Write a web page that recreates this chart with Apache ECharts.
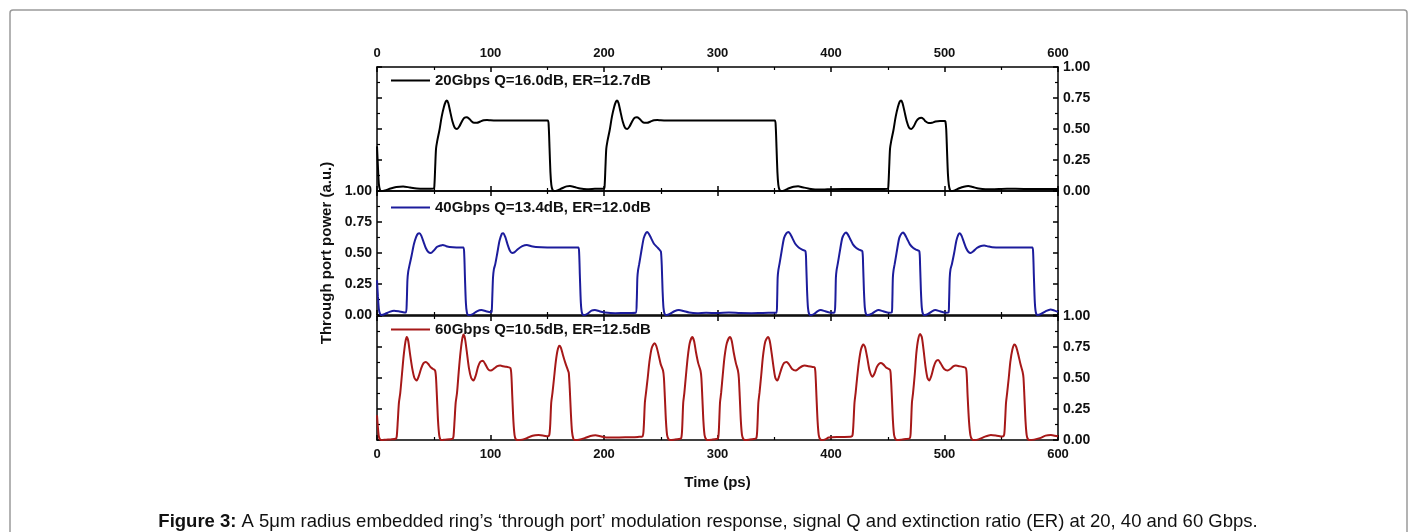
<!DOCTYPE html>
<html>
<head>
<meta charset="utf-8">
<script src="https://cdn.jsdelivr.net/npm/echarts@6/dist/echarts.min.js"></script>
<style>
html,body{margin:0;padding:0;background:#fff;}
#chart{width:1416px;height:532px;}
</style>
</head>
<body>
<div id="chart"></div>
<script>
// ---- data ----
const xTicks = [0, 100, 200, 300, 400, 500, 600];
const yTicks = [0, 0.25, 0.5, 0.75, 1.0];
const seriesNames = ['20Gbps Q=16.0dB, ER=12.7dB', '40Gbps Q=13.4dB, ER=12.0dB', '60Gbps Q=10.5dB, ER=12.5dB'];
const xTitle = 'Time (ps)';
const yTitle = 'Through port power (a.u.)';
const captionBold = 'Figure 3:';
const captionText = ' A 5μm radius embedded ring’s ‘through port’ modulation response, signal Q and extinction ratio (ER) at 20, 40 and 60 Gbps.';

// time (ps), through-port power (a.u.)
const data20G = [
[0,0.36],[0.8,0.2],[1.6,0.06],[2.6,0.01],[4,0.0],[7,0.005],[12,0.02],[17,0.032],[23,0.037],[29,0.028],[35,0.02],[42,0.018],[50,0.02],
[50.6,0.05],[51.3,0.2],[52,0.34],[53,0.40],[55,0.49],[57,0.60],[59,0.68],[60.5,0.72],[61.5,0.73],[62.8,0.71],[64.5,0.64],[66.5,0.56],[68.5,0.51],[70.5,0.50],[72.5,0.52],[75,0.565],[77,0.59],[79,0.595],[81,0.585],[83,0.565],[85.5,0.55],[88,0.55],[91,0.56],[94,0.57],[97,0.573],[100,0.57],[105,0.568],[150.5,0.568],
[151.3,0.52],[152,0.35],[152.8,0.15],[153.6,0.05],[154.6,0.01],[156,0.0],[159,0.005],[163,0.022],[167,0.037],[170,0.04],[174,0.032],[179,0.02],[185,0.015],[192,0.018],[200,0.02],
[200.6,0.05],[201.3,0.2],[202,0.34],[203,0.40],[205,0.49],[207,0.60],[209,0.68],[210.5,0.72],[211.5,0.73],[212.8,0.71],[214.5,0.64],[216.5,0.56],[218.5,0.51],[220.5,0.50],[222.5,0.52],[225,0.565],[227,0.59],[229,0.595],[231,0.585],[233,0.565],[235.5,0.55],[238,0.55],[241,0.56],[244,0.57],[247,0.573],[250,0.57],[255,0.568],[350.5,0.568],
[351.3,0.52],[352,0.35],[352.8,0.15],[353.6,0.05],[354.6,0.01],[356,0.0],[359,0.005],[363,0.022],[367,0.035],[371,0.038],[375,0.03],[380,0.02],[386,0.012],[393,0.012],[400,0.015],[420,0.016],[440,0.016],[450,0.018],
[450.6,0.05],[451.3,0.2],[452,0.34],[453,0.40],[455,0.49],[457,0.60],[459,0.68],[460.5,0.72],[461.8,0.73],[463,0.71],[464.8,0.64],[466.8,0.56],[468.8,0.51],[470.8,0.50],[472.8,0.52],[475.3,0.565],[477.5,0.585],[479.5,0.59],[481.5,0.58],[483.5,0.56],[486,0.548],[489,0.55],[492,0.56],[496,0.565],[500,0.565],[500.8,0.56],
[501.5,0.5],[502.2,0.33],[503,0.14],[503.8,0.05],[504.8,0.01],[506,0.0],[509,0.005],[513,0.022],[517,0.035],[521,0.04],[525,0.032],[530,0.02],[536,0.014],[544,0.015],[555,0.018],[570,0.017],[585,0.016],[600,0.016]
];

const data40G = [
[0,0.28],[0.8,0.15],[1.6,0.05],[2.6,0.01],[4,0.0],[7,0.008],[11,0.025],[15,0.035],[19,0.03],[23,0.022],[25.5,0.02],
[26.2,0.1],[26.8,0.28],[27.5,0.35],[28.6,0.40],[30.5,0.48],[32.5,0.57],[34.5,0.63],[36,0.655],[37.4,0.66],[39,0.64],[41,0.59],[43,0.54],[45,0.51],[47.4,0.50],[50,0.52],[53,0.55],[56,0.56],[58,0.565],[61,0.555],[64,0.548],[70,0.545],[76,0.545],
[76.8,0.5],[77.5,0.3],[78.3,0.1],[79.2,0.02],[80.5,0.0],[84,0.005],[88,0.03],[92,0.04],[96,0.03],[100,0.022],[101,0.025],
[101.6,0.15],[102.2,0.3],[103,0.37],[104.2,0.41],[106,0.5],[108,0.6],[110,0.655],[111.2,0.66],[113,0.63],[115,0.57],[117,0.52],[119,0.50],[121,0.505],[124,0.53],[128,0.555],[132,0.565],[136,0.555],[140,0.548],[150,0.545],[177.4,0.545],
[178.1,0.5],[178.8,0.3],[179.6,0.1],[180.5,0.02],[182,0.0],[185,0.008],[189,0.035],[192,0.04],[196,0.03],[201,0.02],[210,0.015],[220,0.016],[228,0.018],
[228.8,0.1],[229.4,0.3],[230,0.36],[231,0.41],[233,0.52],[235,0.62],[236.8,0.66],[238,0.67],[239.5,0.655],[241.5,0.62],[244,0.575],[247,0.545],[249.5,0.52],[250.2,0.51],
[250.9,0.4],[251.6,0.2],[252.4,0.06],[253.4,0.01],[255,0.0],[258,0.008],[262,0.03],[266,0.04],[270,0.032],[275,0.02],[282,0.015],[290,0.018],[300,0.016],[310,0.02],[320,0.016],[330,0.015],[340,0.017],[352,0.018],
[352.5,0.1],[353,0.3],[353.6,0.36],[354.6,0.41],[356.6,0.52],[358.6,0.62],[360.8,0.66],[362.5,0.67],[364,0.655],[366,0.62],[368.5,0.575],[371.5,0.545],[375,0.525],[377.5,0.515],
[378.2,0.4],[378.9,0.2],[379.7,0.06],[380.7,0.01],[382.3,0.0],[385,0.008],[388,0.03],[391,0.04],[395,0.03],[400,0.018],[403,0.02],
[403.8,0.1],[404.3,0.3],[404.9,0.36],[405.9,0.41],[407.9,0.52],[409.9,0.62],[411.8,0.655],[413.3,0.665],[414.8,0.65],[416.8,0.615],[419.3,0.57],[422.3,0.54],[425.3,0.525],[427.6,0.515],
[428.3,0.4],[429,0.2],[429.8,0.06],[430.8,0.01],[432.4,0.0],[435.5,0.008],[439,0.03],[442,0.04],[446,0.03],[451,0.018],[453.5,0.02],
[454,0.1],[454.5,0.3],[455.1,0.36],[456.1,0.41],[458.1,0.52],[460.1,0.62],[462,0.655],[463.5,0.665],[465,0.65],[467,0.615],[469.5,0.57],[472.5,0.54],[475.5,0.525],[477.8,0.515],
[478.5,0.4],[479.2,0.2],[480,0.06],[481,0.01],[482.6,0.0],[485.5,0.008],[489,0.03],[492,0.04],[496,0.03],[501,0.018],[503.5,0.02],
[504,0.1],[504.6,0.3],[505.3,0.37],[506.5,0.41],[508.5,0.5],[510.5,0.6],[512.3,0.65],[513.5,0.66],[515,0.64],[517,0.59],[519,0.54],[521,0.51],[523,0.50],[525.5,0.515],[528.5,0.54],[531.5,0.555],[535,0.56],[538.5,0.553],[542,0.547],[550,0.545],[577.4,0.545],
[578.1,0.5],[578.8,0.3],[579.6,0.1],[580.5,0.02],[582,0.0],[585,0.008],[589,0.03],[593.5,0.045],[597,0.035],[600,0.025]
];

const data60G = [
[0,0.2],[0.8,0.1],[1.6,0.03],[2.6,0.005],[4,0.0],[8,0.003],[12,0.005],[16.5,0.01],
[17.4,0.03],[18.3,0.15],[19.3,0.3],[20.5,0.38],[22,0.53],[23.5,0.68],[25,0.79],[26.2,0.83],[27.5,0.8],[29,0.7],[31,0.58],[33,0.5],[35,0.48],[37,0.52],[39,0.58],[41,0.62],[43,0.63],[45,0.615],[47,0.59],[49,0.575],[51.2,0.56],[52,0.5],[52.8,0.35],[53.8,0.15],[54.8,0.04],[55.8,0.005],[57,0.0],[60,0.003],[64,0.006],[66.5,0.01],
[67.4,0.03],[68.3,0.15],[69.3,0.3],[70.5,0.38],[72,0.55],[73.5,0.7],[75,0.81],[76.2,0.85],[77.5,0.82],[79,0.72],[81,0.58],[83,0.5],[85,0.48],[87,0.52],[89,0.59],[91,0.63],[93.2,0.64],[95.5,0.61],[98,0.57],[100.3,0.56],[103,0.575],[106,0.595],[108.5,0.60],[111,0.595],[114,0.59],[117.5,0.58],[118.4,0.52],[119.2,0.35],[120.2,0.15],[121.2,0.04],[122.3,0.005],[124,0.0],[128,0.003],[132,0.015],[137,0.035],[142.4,0.04],[147,0.035],[150.5,0.03],[151.8,0.04],
[152.6,0.12],[153.5,0.3],[154.6,0.38],[156,0.5],[157.5,0.63],[159,0.72],[160.6,0.76],[162,0.745],[164,0.68],[166,0.62],[168.3,0.56],[169,0.54],[169.8,0.42],[170.8,0.22],[171.8,0.07],[173,0.01],[174.5,0.0],[178,0.002],[183,0.015],[188,0.032],[192.4,0.038],[197,0.03],[202,0.02],[210,0.02],[220,0.022],[230,0.025],[234,0.03],
[235,0.1],[236,0.3],[237,0.38],[238.5,0.5],[240,0.63],[242,0.74],[244.4,0.78],[246,0.76],[248,0.69],[250,0.61],[252,0.56],[252.8,0.5],[253.6,0.35],[254.6,0.15],[255.6,0.04],[257,0.005],[258.5,0.0],[262,0.003],[266,0.008],[268,0.015],
[268.8,0.08],[269.8,0.3],[270.8,0.38],[272.2,0.52],[273.8,0.67],[275.5,0.78],[277.7,0.83],[279.3,0.8],[281,0.71],[283,0.62],[285,0.56],[285.8,0.5],[286.6,0.35],[287.6,0.15],[288.6,0.04],[290,0.005],[291.5,0.0],[295,0.003],[299,0.008],[300.5,0.015],
[301.2,0.08],[302.2,0.3],[303.2,0.38],[304.6,0.52],[306.2,0.67],[308.2,0.78],[310.9,0.83],[312.5,0.8],[314.2,0.71],[316.2,0.62],[318,0.56],[318.8,0.5],[319.6,0.35],[320.6,0.15],[321.6,0.04],[323,0.005],[324.5,0.0],[328,0.003],[332,0.008],[334.2,0.015],
[335,0.08],[336,0.3],[337,0.38],[338.5,0.52],[340,0.67],[342,0.79],[344.4,0.83],[346,0.8],[347.7,0.7],[349.5,0.58],[351,0.5],[352.7,0.48],[354.5,0.52],[356.5,0.58],[358.5,0.62],[360.9,0.63],[363,0.61],[365.5,0.575],[368.8,0.56],[372,0.58],[374.5,0.595],[376.8,0.60],[380,0.595],[383,0.59],[385.6,0.585],[386.4,0.52],[387.2,0.35],[388.2,0.15],[389.2,0.04],[390.5,0.005],[392,0.0],[395,0.005],[398,0.02],[405,0.025],[412,0.025],[418,0.028],[419,0.04],
[419.7,0.12],[420.7,0.3],[421.7,0.38],[423,0.5],[424.6,0.63],[426.4,0.73],[428.5,0.77],[430,0.75],[432,0.66],[434,0.56],[436.5,0.51],[438.5,0.54],[440.5,0.59],[443.8,0.62],[446,0.61],[448.5,0.585],[452,0.565],[452.8,0.5],[453.6,0.35],[454.6,0.15],[455.6,0.04],[457,0.005],[458.5,0.0],[462,0.003],[466,0.008],[469.5,0.015],
[470.3,0.08],[471.3,0.3],[472.3,0.38],[473.8,0.53],[475.2,0.7],[476.8,0.81],[478.5,0.855],[480,0.83],[481.5,0.73],[483.3,0.59],[485,0.5],[486.5,0.48],[488.5,0.52],[490.5,0.59],[492.5,0.635],[494.4,0.645],[496.8,0.615],[499.5,0.575],[502.7,0.56],[505.5,0.575],[508,0.595],[510,0.60],[513,0.595],[516,0.59],[518.8,0.58],[519.6,0.52],[520.4,0.35],[521.6,0.15],[522.8,0.04],[524.2,0.005],[526,0.0],[530,0.005],[535,0.025],[540.9,0.04],[546,0.035],[551,0.028],[552.5,0.04],
[553.2,0.12],[554.2,0.3],[555.2,0.38],[556.6,0.5],[558,0.63],[559.8,0.73],[561.5,0.77],[563,0.755],[565,0.69],[567,0.61],[568.8,0.55],[569.6,0.5],[570.4,0.35],[571.4,0.15],[572.4,0.04],[573.6,0.005],[575,0.0],[579,0.003],[584,0.015],[589,0.035],[593.8,0.04],[597,0.035],[600,0.03]
];

// ---- chart ----
const FONT = '"Liberation Sans", Arial, sans-serif';
const colors = ['#000000', '#1c1c9c', '#a61818'];
const panelData = [data20G, data40G, data60G];
const gridTops = [67, 191, 316];
const gridH = 124;

const axisLineStyle = { color: '#000', width: 1.5 };
const xLblStyle = { color: '#111', fontFamily: FONT, fontWeight: 'bold', fontSize: 13 };
const yLblStyle = { color: '#111', fontFamily: FONT, fontWeight: 'bold', fontSize: 14 };
const titleStyle = { color: '#111', fontFamily: FONT, fontWeight: 'bold', fontSize: 15 };

const grids = gridTops.map(t => ({ left: 377, top: t, width: 681, height: gridH, containLabel: false }));

const xAxes = [];
const yAxes = [];
for (let g = 0; g < 3; g++) {
  ['bottom', 'top'].forEach(pos => {
    const showLbl = (g === 0 && pos === 'top') || (g === 2 && pos === 'bottom');
    const ax = {
      type: 'value', gridIndex: g, position: pos, min: xTicks[0], max: xTicks[xTicks.length - 1],
      interval: xTicks[1] - xTicks[0],
      axisLine: { show: true, onZero: false, lineStyle: axisLineStyle },
      axisTick: { show: true, inside: true, length: 5, lineStyle: { color: '#000', width: 1.5 } },
      minorTick: { show: true, splitNumber: 2, length: 3, lineStyle: { color: '#000', width: 1.2 } },
      splitLine: { show: false },
      axisLabel: Object.assign({ show: showLbl, margin: pos === 'top' ? 7 : 8 }, xLblStyle)
    };
    if (g === 2 && pos === 'bottom') {
      ax.name = xTitle; ax.nameLocation = 'middle'; ax.nameGap = 35;
      ax.nameTextStyle = titleStyle;
    }
    xAxes.push(ax);
  });
  ['left', 'right'].forEach(pos => {
    const showLbl = (g === 1 && pos === 'left') || (g !== 1 && pos === 'right');
    const ax = {
      type: 'value', gridIndex: g, position: pos, min: yTicks[0], max: yTicks[yTicks.length - 1],
      interval: yTicks[1] - yTicks[0],
      axisLine: { show: true, onZero: false, lineStyle: axisLineStyle },
      axisTick: { show: true, inside: true, length: 5, lineStyle: { color: '#000', width: 1.5 } },
      minorTick: { show: true, splitNumber: 2, length: 3, lineStyle: { color: '#000', width: 1.2 } },
      splitLine: { show: false },
      axisLabel: Object.assign({ show: showLbl, margin: 5, formatter: v => v.toFixed(2), showMinLabel: true, showMaxLabel: true }, yLblStyle)
    };
    if (g === 1 && pos === 'left') {
      ax.name = yTitle; ax.nameLocation = 'middle'; ax.nameGap = 43;
      ax.nameTextStyle = titleStyle;
    }
    yAxes.push(ax);
  });
}

const series = panelData.map((d, g) => ({
  name: seriesNames[g], type: 'line', xAxisIndex: g * 2, yAxisIndex: g * 2,
  data: d, showSymbol: false, symbol: 'none', smooth: 0.25, clip: true,
  lineStyle: { color: colors[g], width: 2 }, itemStyle: { color: colors[g] }, z: 3
}));

const legendTops = [73, 200, 322];
const legends = seriesNames.map((n, g) => ({
  data: [{ name: n, icon: 'rect' }], left: 391, top: legendTops[g], orient: 'horizontal', padding: 0,
  itemWidth: 39, itemHeight: 2, itemGap: 4, selectedMode: false,
  textStyle: { color: '#111', fontFamily: FONT, fontWeight: 'bold', fontSize: 15 }
}));

const chart = echarts.init(document.getElementById('chart'), null, { renderer: 'canvas' });
chart.setOption({
  backgroundColor: '#fff',
  animation: false,
  grid: grids,
  xAxis: xAxes,
  yAxis: yAxes,
  legend: legends,
  series: series,
  graphic: [
    { type: 'rect', shape: { x: 10, y: 10, width: 1397, height: 540, r: 3 }, style: { fill: 'none', stroke: '#9a9a9a', lineWidth: 1.5 }, z: -1 },
    { type: 'text', left: 'center', top: 512, style: {
        rich: { b: { fontWeight: 'bold', fontSize: 18.5, fontFamily: FONT, fill: '#111' }, n: { fontSize: 18.5, fontFamily: FONT, fill: '#111' } },
        text: '{b|' + captionBold + '}{n|' + captionText + '}' } }
  ]
});
</script>
</body>
</html>
